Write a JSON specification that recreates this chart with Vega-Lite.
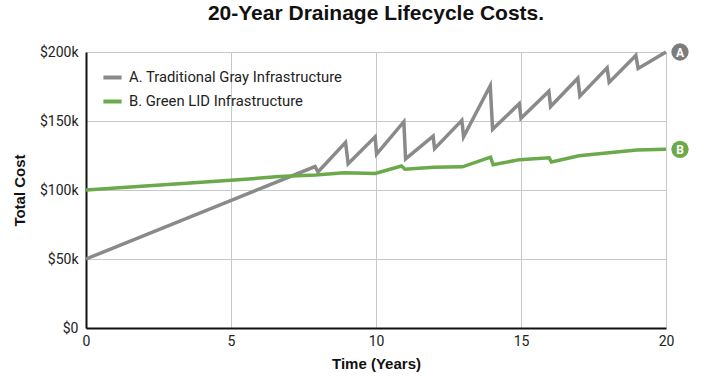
{
  "$schema": "https://vega.github.io/schema/vega-lite/v6.json",
  "width": 580,
  "height": 276,
  "autosize": {"type": "none"},
  "padding": {"left": 86, "top": 52, "right": 38, "bottom": 56},
  "background": "white",
  "title": {
    "text": "20-Year Drainage Lifecycle Costs.",
    "font": "Liberation Sans",
    "fontSize": 21,
    "fontWeight": "bold",
    "color": "#111111",
    "anchor": "middle",
    "offset": 19
  },
  "config": {
    "view": {"stroke": null},
    "axis": {
      "labelFont": "Roboto",
      "labelFontSize": 14,
      "labelColor": "#222222",
      "titleFont": "Liberation Sans",
      "titleFontSize": 15,
      "titleFontWeight": "bold",
      "titleColor": "#111111",
      "gridColor": "#c8c8c8",
      "gridWidth": 1,
      "domainColor": "#111111",
      "domainWidth": 2,
      "ticks": false
    },
    "legend": {
      "labelFont": "Roboto",
      "labelFontSize": 14.8,
      "labelColor": "#222222",
      "labelLimit": 400
    }
  },
  "datasets": {
    "lines": [
      {"series": "A. Traditional Gray Infrastructure", "year": 0, "cost": 50000},
      {"series": "A. Traditional Gray Infrastructure", "year": 7.9, "cost": 117000},
      {"series": "A. Traditional Gray Infrastructure", "year": 8.0, "cost": 113000},
      {"series": "A. Traditional Gray Infrastructure", "year": 8.95, "cost": 134500},
      {"series": "A. Traditional Gray Infrastructure", "year": 9.04, "cost": 119000},
      {"series": "A. Traditional Gray Infrastructure", "year": 9.97, "cost": 138500},
      {"series": "A. Traditional Gray Infrastructure", "year": 10.02, "cost": 126000},
      {"series": "A. Traditional Gray Infrastructure", "year": 10.96, "cost": 149500},
      {"series": "A. Traditional Gray Infrastructure", "year": 11.02, "cost": 122500},
      {"series": "A. Traditional Gray Infrastructure", "year": 11.97, "cost": 139000},
      {"series": "A. Traditional Gray Infrastructure", "year": 12.02, "cost": 130000},
      {"series": "A. Traditional Gray Infrastructure", "year": 12.96, "cost": 150500},
      {"series": "A. Traditional Gray Infrastructure", "year": 13.02, "cost": 138500},
      {"series": "A. Traditional Gray Infrastructure", "year": 13.94, "cost": 175500},
      {"series": "A. Traditional Gray Infrastructure", "year": 14.02, "cost": 144000},
      {"series": "A. Traditional Gray Infrastructure", "year": 14.94, "cost": 162500},
      {"series": "A. Traditional Gray Infrastructure", "year": 15.0, "cost": 152000},
      {"series": "A. Traditional Gray Infrastructure", "year": 15.96, "cost": 171500},
      {"series": "A. Traditional Gray Infrastructure", "year": 16.02, "cost": 160500},
      {"series": "A. Traditional Gray Infrastructure", "year": 16.96, "cost": 181000},
      {"series": "A. Traditional Gray Infrastructure", "year": 17.03, "cost": 168000},
      {"series": "A. Traditional Gray Infrastructure", "year": 17.97, "cost": 188500},
      {"series": "A. Traditional Gray Infrastructure", "year": 18.04, "cost": 178000},
      {"series": "A. Traditional Gray Infrastructure", "year": 18.96, "cost": 197500},
      {"series": "A. Traditional Gray Infrastructure", "year": 19.04, "cost": 188000},
      {"series": "A. Traditional Gray Infrastructure", "year": 20, "cost": 200000},
      {"series": "B. Green LID Infrastructure", "year": 0, "cost": 100000},
      {"series": "B. Green LID Infrastructure", "year": 5, "cost": 107000},
      {"series": "B. Green LID Infrastructure", "year": 6.66, "cost": 109700},
      {"series": "B. Green LID Infrastructure", "year": 7.92, "cost": 110900},
      {"series": "B. Green LID Infrastructure", "year": 8.9, "cost": 112500},
      {"series": "B. Green LID Infrastructure", "year": 9.97, "cost": 112000},
      {"series": "B. Green LID Infrastructure", "year": 10.88, "cost": 117400},
      {"series": "B. Green LID Infrastructure", "year": 11.0, "cost": 115000},
      {"series": "B. Green LID Infrastructure", "year": 12.0, "cost": 116400},
      {"series": "B. Green LID Infrastructure", "year": 12.98, "cost": 116800},
      {"series": "B. Green LID Infrastructure", "year": 13.95, "cost": 123800},
      {"series": "B. Green LID Infrastructure", "year": 14.04, "cost": 118300},
      {"series": "B. Green LID Infrastructure", "year": 14.95, "cost": 122000},
      {"series": "B. Green LID Infrastructure", "year": 15.97, "cost": 123300},
      {"series": "B. Green LID Infrastructure", "year": 16.05, "cost": 120300},
      {"series": "B. Green LID Infrastructure", "year": 17.0, "cost": 124800},
      {"series": "B. Green LID Infrastructure", "year": 18.03, "cost": 127000},
      {"series": "B. Green LID Infrastructure", "year": 19.0, "cost": 129000},
      {"series": "B. Green LID Infrastructure", "year": 20, "cost": 129500}
    ],
    "ends": [
      {"series": "A. Traditional Gray Infrastructure", "label": "A", "year": 20, "cost": 200000},
      {"series": "B. Green LID Infrastructure", "label": "B", "year": 20, "cost": 129500}
    ]
  },
  "layer": [
    {
      "data": {"name": "lines"},
      "mark": {"type": "line", "strokeWidth": 3.5, "strokeJoin": "miter", "clip": false},
      "encoding": {
        "x": {
          "field": "year", "type": "quantitative",
          "scale": {"domain": [0, 20], "nice": false},
          "axis": {"values": [0, 5, 10, 15, 20], "title": "Time (Years)", "labelPadding": 6, "titlePadding": 8, "labelFlush": false}
        },
        "y": {
          "field": "cost", "type": "quantitative",
          "scale": {"domain": [0, 200000], "nice": false},
          "axis": {
            "values": [0, 50000, 100000, 150000, 200000],
            "labelExpr": "datum.value == 0 ? '$0' : '$' + (datum.value / 1000) + 'k'",
            "title": "Total Cost", "labelPadding": 8, "titlePadding": 12, "labelFlush": false
          }
        },
        "color": {
          "field": "series", "type": "nominal",
          "scale": {
            "domain": ["A. Traditional Gray Infrastructure", "B. Green LID Infrastructure"],
            "range": ["#8a8a8a", "#6aaa4a"]
          },
          "legend": {
            "title": null,
            "orient": "none",
            "legendX": 15,
            "legendY": 14,
            "padding": 0,
            "symbolType": "stroke",
            "symbolStrokeWidth": 4,
            "symbolSize": 330,
            "labelOffset": 5,
            "rowPadding": 4
          }
        }
      }
    },
    {
      "data": {"name": "ends"},
      "mark": {"type": "point", "shape": "circle", "filled": true, "size": 300, "opacity": 1, "xOffset": 14, "clip": false},
      "encoding": {
        "x": {"field": "year", "type": "quantitative"},
        "y": {"field": "cost", "type": "quantitative"},
        "fill": {
          "field": "series", "type": "nominal",
          "scale": {
            "domain": ["A. Traditional Gray Infrastructure", "B. Green LID Infrastructure"],
            "range": ["#7c7c7c", "#6aaa4a"]
          },
          "legend": null
        }
      }
    },
    {
      "data": {"name": "ends"},
      "mark": {"type": "text", "font": "Roboto", "fontSize": 12, "fontWeight": "bold", "color": "white", "xOffset": 14, "yOffset": 0.5, "align": "center", "baseline": "middle", "clip": false},
      "encoding": {
        "x": {"field": "year", "type": "quantitative"},
        "y": {"field": "cost", "type": "quantitative"},
        "text": {"field": "label"}
      }
    }
  ]
}
